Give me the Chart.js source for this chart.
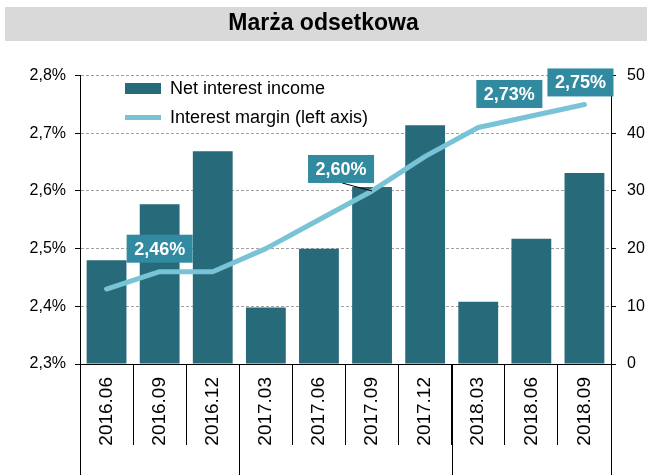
<!DOCTYPE html>
<html>
<head>
<meta charset="utf-8">
<script src="https://cdn.jsdelivr.net/npm/chart.js@4.4.1/dist/chart.umd.min.js"></script>
<style>
  body { margin: 0; background: #fff; }
  canvas { display: block; }
</style>
</head>
<body>
<canvas id="myChart" width="647" height="475"></canvas>
<script>
// categories (quarters)
const quarters = ["2016.06", "2016.09", "2016.12", "2017.03", "2017.06",
                  "2017.09", "2017.12", "2018.03", "2018.06", "2018.09"];

// net interest income - bars, right axis
const netIncome = [18.0, 27.7, 36.9, 9.8, 20.0, 30.7, 41.4, 10.8, 21.7, 33.1];

// interest margin in % - line, left axis
const margin = [2.43, 2.46, 2.46, 2.50, 2.55, 2.60, 2.66, 2.71, 2.73, 2.75];

// points of the line that get a value box
const labelled = [1, 5, 8, 9];

// axis ticks
const leftTicks = [2.3, 2.4, 2.5, 2.6, 2.7, 2.8];
const rightTicks = [0, 10, 20, 30, 40, 50];

const font = "'Liberation Sans', Arial, sans-serif";

// grey band behind the title
const titleBand = {
  id: 'titleBand',
  beforeDraw(chart) {
    const ctx = chart.ctx;
    ctx.save();
    ctx.fillStyle = '#fff';
    ctx.fillRect(0, 0, chart.width, chart.height);
    ctx.fillStyle = '#d9d9d9';
    ctx.fillRect(5, 7, chart.width - 5, 34);
    ctx.restore();
  }
};

// move the legend inside the plot
const legendPos = {
  id: 'legendPos',
  afterLayout(chart) {
    chart.legend.left = chart.chartArea.left + 34;
    chart.legend.top = chart.chartArea.top - 7;
  }
};

// long lines under the axis where the year changes
const yearLines = {
  id: 'yearLines',
  afterDraw(chart) {
    const xs = chart.scales.x;
    const area = chart.chartArea;
    const ctx = chart.ctx;
    ctx.save();
    ctx.strokeStyle = '#000';
    ctx.lineWidth = 1;
    for (let i = 0; i <= quarters.length; i++) {
      let px;
      if (i === 0) {
        px = area.left;
      } else if (i === quarters.length) {
        px = area.right;
      } else {
        if (quarters[i].slice(0, 4) === quarters[i - 1].slice(0, 4)) continue;
        px = (xs.getPixelForValue(i - 1) + xs.getPixelForValue(i)) / 2;
      }
      px = Math.round(px) + 0.5;
      ctx.beginPath();
      ctx.moveTo(px, area.bottom);
      ctx.lineTo(px, chart.height);
      ctx.stroke();
    }
    ctx.restore();
  }
};

// value boxes on the margin line
const valueLabels = {
  id: 'valueLabels',
  afterDatasetsDraw(chart, args, opts) {
    const meta = chart.getDatasetMeta(1);
    const ctx = chart.ctx;
    ctx.save();
    ctx.font = 'bold 18px ' + font;
    labelled.forEach((idx, k) => {
      const pt = meta.data[idx];
      const off = opts.offsets[k];
      const text = margin[idx].toFixed(2).replace('.', ',') + '%';
      const w = ctx.measureText(text).width + 15;
      const h = 28;
      const cx = pt.x + off[0];
      const cy = pt.y + off[1];
      if (opts.leader[k]) {
        ctx.strokeStyle = '#000';
        ctx.lineWidth = 1;
        ctx.beginPath();
        ctx.moveTo(cx + 1, cy + h / 2);
        ctx.lineTo(pt.x, pt.y);
        ctx.stroke();
      }
      ctx.fillStyle = '#318a9f';
      ctx.fillRect(cx - w / 2, cy - h / 2, w, h);
      ctx.fillStyle = '#fff';
      ctx.textAlign = 'center';
      ctx.textBaseline = 'middle';
      ctx.fillText(text, cx, cy + 1);
    });
    ctx.restore();
  }
};

const ctx = document.getElementById('myChart');

new Chart(ctx, {
  data: {
    labels: quarters,
    datasets: [{
      type: 'bar',
      label: 'Net interest income',
      data: netIncome,
      yAxisID: 'y1',
      backgroundColor: '#276a79',
      borderWidth: 0,
      pointStyle: 'rect',
      barPercentage: 0.75,
      categoryPercentage: 1,
      order: 2
    }, {
      type: 'line',
      label: 'Interest margin (left axis)',
      data: margin,
      yAxisID: 'y',
      borderColor: '#78c3d5',
      backgroundColor: '#78c3d5',
      borderWidth: 5,
      borderCapStyle: 'round',
      borderJoinStyle: 'round',
      pointStyle: 'line',
      pointRadius: 0,
      tension: 0,
      order: 1
    }]
  },
  options: {
    responsive: false,
    animation: false,
    layout: { padding: 0 },
    scales: {
      x: {
        grid: {
          display: true,
          drawOnChartArea: false,
          drawTicks: true,
          tickLength: 81,
          offset: true,
          color: '#000',
          tickColor: '#000'
        },
        border: { display: true, color: '#000' },
        ticks: {
          minRotation: 90,
          maxRotation: 90,
          autoSkip: false,
          padding: -68,
          color: '#000',
          font: { size: 19, family: font }
        },
        afterFit(s) { s.height = 111; }
      },
      y: {
        position: 'left',
        min: leftTicks[0],
        max: leftTicks[leftTicks.length - 1],
        afterBuildTicks(s) { s.ticks = leftTicks.map(v => ({ value: v })); },
        grid: { color: '#a0a0a0', tickLength: 5, tickColor: '#000' },
        border: { display: true, color: '#000', dash: [3, 2] },
        ticks: {
          padding: 9,
          color: '#000',
          font: { size: 16, family: font },
          callback: v => v.toFixed(1).replace('.', ',') + '%'
        },
        afterFit(s) { s.width = 80; }
      },
      y1: {
        position: 'right',
        min: rightTicks[0],
        max: rightTicks[rightTicks.length - 1],
        afterBuildTicks(s) { s.ticks = rightTicks.map(v => ({ value: v })); },
        grid: { drawOnChartArea: false, tickLength: 5, color: '#000' },
        border: { display: true, color: '#000' },
        ticks: {
          padding: 11,
          color: '#000',
          font: { size: 16, family: font }
        },
        afterFit(s) { s.width = 36; }
      }
    },
    plugins: {
      title: {
        display: true,
        text: 'Marża odsetkowa',
        color: '#000',
        font: { size: 23, weight: 'bold', family: font },
        padding: { top: 10, bottom: 38 }
      },
      legend: {
        position: 'chartArea',
        align: 'start',
        labels: {
          color: '#000',
          font: { size: 18, family: font },
          boxWidth: 36,
          boxHeight: 11,
          usePointStyle: true,
          pointStyleWidth: 36,
          padding: 11,
          sort: (a, b) => a.datasetIndex - b.datasetIndex
        }
      },
      tooltip: { enabled: false },
      valueLabels: {
        offsets: [[0, -23], [-31, -22], [-22, -22], [-4, -22]],
        leader: [false, true, false, false]
      }
    }
  },
  plugins: [titleBand, legendPos, yearLines, valueLabels]
});
</script>
</body>
</html>
